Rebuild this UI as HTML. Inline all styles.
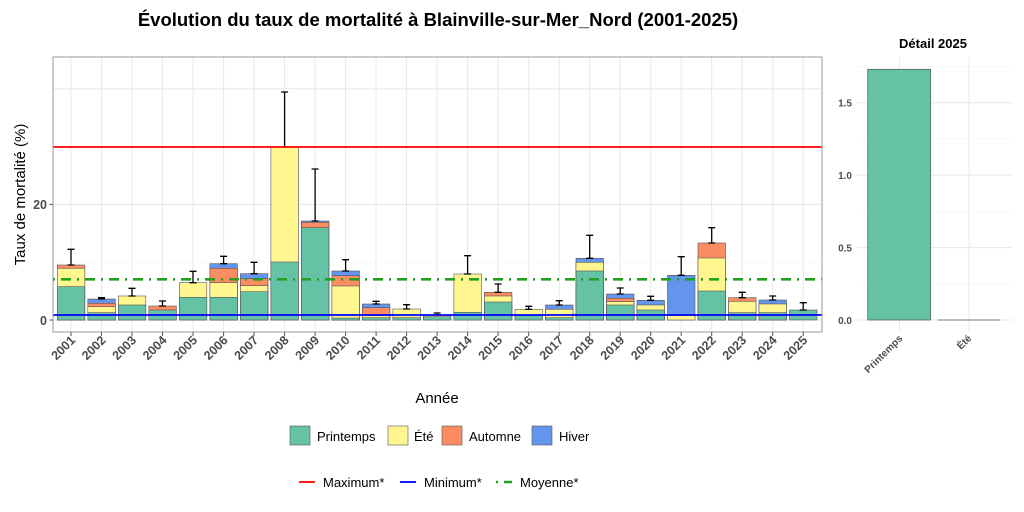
<!DOCTYPE html>
<html><head><meta charset="utf-8"><style>
html,body{margin:0;padding:0;background:#fff}
svg{display:block;font-family:"Liberation Sans",sans-serif}
.tk{font-size:12.5px;font-weight:bold;fill:#4d4d4d}
.g{fill:#66c2a5;stroke:#555;stroke-width:0.6}
.y{fill:#fff68f;stroke:#555;stroke-width:0.6}
.o{fill:#fc8d62;stroke:#555;stroke-width:0.6}
.b{fill:#6495ed;stroke:#555;stroke-width:0.6}
.e{stroke:#000;stroke-width:1.3;fill:none}
</style></head><body>
<svg width="1024" height="512" viewBox="0 0 1024 512">
<text x="438" y="26" text-anchor="middle" font-size="18.5" font-weight="bold">Évolution du taux de mortalité à Blainville-sur-Mer_Nord (2001-2025)</text>
<g stroke="#f3f3f3" stroke-width="0.6">
<line x1="53" x2="822" y1="262.2" y2="262.2"/><line x1="53" x2="822" y1="146.6" y2="146.6"/><line x1="53" x2="822" y1="88.8" y2="88.8"/>
</g>
<g stroke="#e8e8e8" stroke-width="1">
<line x1="53" x2="822" y1="320" y2="320"/><line x1="53" x2="822" y1="204.4" y2="204.4"/><line x1="53" x2="822" y1="88.8" y2="88.8"/>
<line x1="71" x2="71" y1="57" y2="332"/><line x1="101.5" x2="101.5" y1="57" y2="332"/><line x1="132" x2="132" y1="57" y2="332"/><line x1="162.5" x2="162.5" y1="57" y2="332"/><line x1="193" x2="193" y1="57" y2="332"/><line x1="223.6" x2="223.6" y1="57" y2="332"/><line x1="254.1" x2="254.1" y1="57" y2="332"/><line x1="284.6" x2="284.6" y1="57" y2="332"/><line x1="315.1" x2="315.1" y1="57" y2="332"/><line x1="345.6" x2="345.6" y1="57" y2="332"/><line x1="376.1" x2="376.1" y1="57" y2="332"/><line x1="406.6" x2="406.6" y1="57" y2="332"/><line x1="437.1" x2="437.1" y1="57" y2="332"/><line x1="467.6" x2="467.6" y1="57" y2="332"/><line x1="498.1" x2="498.1" y1="57" y2="332"/><line x1="528.7" x2="528.7" y1="57" y2="332"/><line x1="559.2" x2="559.2" y1="57" y2="332"/><line x1="589.7" x2="589.7" y1="57" y2="332"/><line x1="620.2" x2="620.2" y1="57" y2="332"/><line x1="650.7" x2="650.7" y1="57" y2="332"/><line x1="681.2" x2="681.2" y1="57" y2="332"/><line x1="711.7" x2="711.7" y1="57" y2="332"/><line x1="742.2" x2="742.2" y1="57" y2="332"/><line x1="772.7" x2="772.7" y1="57" y2="332"/><line x1="803.2" x2="803.2" y1="57" y2="332"/>
</g>
<g>
<rect class="o" x="57.3" y="265" width="27.5" height="55"/><rect class="y" x="57.3" y="268.3" width="27.5" height="51.7"/><rect class="g" x="57.3" y="286.7" width="27.5" height="33.3"/>
<rect class="b" x="87.8" y="299" width="27.5" height="21"/><rect class="o" x="87.8" y="303.3" width="27.5" height="16.7"/><rect class="y" x="87.8" y="306.7" width="27.5" height="13.3"/><rect class="g" x="87.8" y="312.7" width="27.5" height="7.3"/>
<rect class="y" x="118.3" y="296" width="27.5" height="24"/><rect class="g" x="118.3" y="305" width="27.5" height="15"/>
<rect class="o" x="148.8" y="306" width="27.5" height="14"/><rect class="g" x="148.8" y="310" width="27.5" height="10"/>
<rect class="y" x="179.3" y="282.7" width="27.5" height="37.3"/><rect class="g" x="179.3" y="297.3" width="27.5" height="22.7"/>
<rect class="b" x="209.9" y="263.7" width="27.5" height="56.3"/><rect class="o" x="209.9" y="268.3" width="27.5" height="51.7"/><rect class="y" x="209.9" y="282.7" width="27.5" height="37.3"/><rect class="g" x="209.9" y="297.3" width="27.5" height="22.7"/>
<rect class="b" x="240.4" y="273.7" width="27.5" height="46.3"/><rect class="o" x="240.4" y="278.7" width="27.5" height="41.3"/><rect class="y" x="240.4" y="285.7" width="27.5" height="34.3"/><rect class="g" x="240.4" y="291.7" width="27.5" height="28.3"/>
<rect class="y" x="270.9" y="147" width="27.5" height="173"/><rect class="g" x="270.9" y="262" width="27.5" height="58"/>
<rect class="b" x="301.4" y="221" width="27.5" height="99"/><rect class="o" x="301.4" y="222.3" width="27.5" height="97.7"/><rect class="g" x="301.4" y="227.7" width="27.5" height="92.3"/>
<rect class="b" x="331.9" y="271" width="27.5" height="49"/><rect class="o" x="331.9" y="275.7" width="27.5" height="44.3"/><rect class="y" x="331.9" y="286" width="27.5" height="34"/><rect class="g" x="331.9" y="318" width="27.5" height="2"/>
<rect class="b" x="362.4" y="304" width="27.5" height="16"/><rect class="o" x="362.4" y="307.7" width="27.5" height="12.3"/><rect class="y" x="362.4" y="315.7" width="27.5" height="4.3"/><rect class="g" x="362.4" y="317.7" width="27.5" height="2.3"/>
<rect class="y" x="392.9" y="309" width="27.5" height="11"/><rect class="g" x="392.9" y="317.7" width="27.5" height="2.3"/>
<rect class="y" x="423.4" y="315" width="27.5" height="5"/><rect class="g" x="423.4" y="316.7" width="27.5" height="3.3"/>
<rect class="y" x="453.9" y="274" width="27.5" height="46"/><rect class="g" x="453.9" y="312.3" width="27.5" height="7.7"/>
<rect class="o" x="484.4" y="292.3" width="27.5" height="27.7"/><rect class="y" x="484.4" y="296" width="27.5" height="24"/><rect class="g" x="484.4" y="302" width="27.5" height="18"/>
<rect class="y" x="515" y="309.3" width="27.5" height="10.7"/><rect class="g" x="515" y="315" width="27.5" height="5"/>
<rect class="b" x="545.5" y="305" width="27.5" height="15"/><rect class="y" x="545.5" y="309.3" width="27.5" height="10.7"/><rect class="g" x="545.5" y="317.7" width="27.5" height="2.3"/>
<rect class="b" x="576" y="258.3" width="27.5" height="61.7"/><rect class="y" x="576" y="262.3" width="27.5" height="57.7"/><rect class="g" x="576" y="271" width="27.5" height="49"/>
<rect class="b" x="606.5" y="294" width="27.5" height="26"/><rect class="o" x="606.5" y="298.3" width="27.5" height="21.7"/><rect class="y" x="606.5" y="301.7" width="27.5" height="18.3"/><rect class="g" x="606.5" y="305" width="27.5" height="15"/>
<rect class="b" x="637" y="300.3" width="27.5" height="19.7"/><rect class="y" x="637" y="305" width="27.5" height="15"/><rect class="g" x="637" y="310" width="27.5" height="10"/>
<rect class="b" x="667.5" y="275.3" width="27.5" height="44.7"/><rect class="y" x="667.5" y="315.5" width="27.5" height="4.5"/>
<rect class="o" x="698" y="243" width="27.5" height="77"/><rect class="y" x="698" y="258" width="27.5" height="62"/><rect class="g" x="698" y="291" width="27.5" height="29"/>
<rect class="o" x="728.5" y="297.7" width="27.5" height="22.3"/><rect class="y" x="728.5" y="301.3" width="27.5" height="18.7"/><rect class="g" x="728.5" y="312.7" width="27.5" height="7.3"/>
<rect class="b" x="759" y="300" width="27.5" height="20"/><rect class="y" x="759" y="304" width="27.5" height="16"/><rect class="g" x="759" y="312.7" width="27.5" height="7.3"/>
<rect class="g" x="789.5" y="310" width="27.5" height="10"/>
</g>
<path class="e" d="
M71 265V249.3M67.5 265h7M67.5 249.3h7
M101.5 299V297.7M98 299h7M98 297.7h7
M132 296V288.3M128.5 296h7M128.5 288.3h7
M162.5 306V301M159 306h7M159 301h7
M193 282.7V271.3M189.5 282.7h7M189.5 271.3h7
M223.6 263.7V256.3M220.1 263.7h7M220.1 256.3h7
M254.1 273.7V262.3M250.6 273.7h7M250.6 262.3h7
M284.6 147V92M281.1 147h7M281.1 92h7
M315.1 221V169M311.6 221h7M311.6 169h7
M345.6 271V259.7M342.1 271h7M342.1 259.7h7
M376.1 304V301.3M372.6 304h7M372.6 301.3h7
M406.6 309V304.7M403.1 309h7M403.1 304.7h7
M437.1 315V313M433.6 315h7M433.6 313h7
M467.6 274V255.7M464.1 274h7M464.1 255.7h7
M498.1 292.3V284M494.6 292.3h7M494.6 284h7
M528.7 309.3V306.3M525.2 309.3h7M525.2 306.3h7
M559.2 305V300.7M555.7 305h7M555.7 300.7h7
M589.7 258.3V235.3M586.2 258.3h7M586.2 235.3h7
M620.2 294V288M616.7 294h7M616.7 288h7
M650.7 300.3V296.3M647.2 300.3h7M647.2 296.3h7
M681.2 275.3V256.7M677.7 275.3h7M677.7 256.7h7
M711.7 243V227.7M708.2 243h7M708.2 227.7h7
M742.2 297.7V292.3M738.7 297.7h7M738.7 292.3h7
M772.7 300V296M769.2 300h7M769.2 296h7
M803.2 310V302.7M799.7 310h7M799.7 302.7h7"/>
<line x1="53" x2="822" y1="147" y2="147" stroke="#ff0000" stroke-width="1.8"/>
<line x1="53" x2="822" y1="315" y2="315" stroke="#0000ff" stroke-width="1.8"/>
<line x1="53" x2="822" y1="279.3" y2="279.3" stroke="#22a022" stroke-width="2.6" stroke-dasharray="2 6 10 6"/>
<rect x="53" y="57" width="769" height="275" fill="none" stroke="#9a9a9a" stroke-width="1"/>
<g stroke="#555" stroke-width="1"><line x1="49.5" x2="53" y1="320" y2="320"/><line x1="49.5" x2="53" y1="204.4" y2="204.4"/></g>
<text class="tk" x="47" y="325" text-anchor="end">0</text>
<text class="tk" x="47" y="209" text-anchor="end">20</text>
<text transform="translate(25,194.5) rotate(-90)" text-anchor="middle" font-size="15">Taux de mortalité (%)</text>
<g stroke="#555" stroke-width="1">
<path d="M71 332v4M101.5 332v4M132 332v4M162.5 332v4M193 332v4M223.6 332v4M254.1 332v4M284.6 332v4M315.1 332v4M345.6 332v4M376.1 332v4M406.6 332v4M437.1 332v4M467.6 332v4M498.1 332v4M528.7 332v4M559.2 332v4M589.7 332v4M620.2 332v4M650.7 332v4M681.2 332v4M711.7 332v4M742.2 332v4M772.7 332v4M803.2 332v4"/>
</g>
<g class="tk" text-anchor="end">
<text transform="translate(76,341) rotate(-45)">2001</text>
<text transform="translate(106.5,341) rotate(-45)">2002</text>
<text transform="translate(137,341) rotate(-45)">2003</text>
<text transform="translate(167.5,341) rotate(-45)">2004</text>
<text transform="translate(198,341) rotate(-45)">2005</text>
<text transform="translate(228.6,341) rotate(-45)">2006</text>
<text transform="translate(259.1,341) rotate(-45)">2007</text>
<text transform="translate(289.6,341) rotate(-45)">2008</text>
<text transform="translate(320.1,341) rotate(-45)">2009</text>
<text transform="translate(350.6,341) rotate(-45)">2010</text>
<text transform="translate(381.1,341) rotate(-45)">2011</text>
<text transform="translate(411.6,341) rotate(-45)">2012</text>
<text transform="translate(442.1,341) rotate(-45)">2013</text>
<text transform="translate(472.6,341) rotate(-45)">2014</text>
<text transform="translate(503.1,341) rotate(-45)">2015</text>
<text transform="translate(533.7,341) rotate(-45)">2016</text>
<text transform="translate(564.2,341) rotate(-45)">2017</text>
<text transform="translate(594.7,341) rotate(-45)">2018</text>
<text transform="translate(625.2,341) rotate(-45)">2019</text>
<text transform="translate(655.7,341) rotate(-45)">2020</text>
<text transform="translate(686.2,341) rotate(-45)">2021</text>
<text transform="translate(716.7,341) rotate(-45)">2022</text>
<text transform="translate(747.2,341) rotate(-45)">2023</text>
<text transform="translate(777.7,341) rotate(-45)">2024</text>
<text transform="translate(808.2,341) rotate(-45)">2025</text>
</g>
<text x="437" y="403" text-anchor="middle" font-size="15">Année</text>
<rect x="290" y="426" width="20" height="19" fill="#66c2a5" stroke="#555" stroke-width="0.6"/>
<text x="317" y="441" font-size="13">Printemps</text>
<rect x="388" y="426" width="20" height="19" fill="#fff68f" stroke="#555" stroke-width="0.6"/>
<text x="414" y="441" font-size="13">Été</text>
<rect x="442" y="426" width="20" height="19" fill="#fc8d62" stroke="#555" stroke-width="0.6"/>
<text x="469" y="441" font-size="13">Automne</text>
<rect x="532" y="426" width="20" height="19" fill="#6495ed" stroke="#555" stroke-width="0.6"/>
<text x="559" y="441" font-size="13">Hiver</text>
<line x1="299" x2="315" y1="482" y2="482" stroke="#ff0000" stroke-width="1.8"/>
<text x="323" y="487" font-size="13">Maximum*</text>
<line x1="400" x2="416" y1="482" y2="482" stroke="#0000ff" stroke-width="1.8"/>
<text x="424" y="487" font-size="13">Minimum*</text>
<line x1="496" x2="512" y1="482" y2="482" stroke="#22a022" stroke-width="2.4" stroke-dasharray="2 6 8 6"/>
<text x="520" y="487" font-size="13">Moyenne*</text>
<text x="933" y="48" text-anchor="middle" font-size="13" font-weight="bold">Détail 2025</text>
<g stroke="#f3f3f3" stroke-width="0.6">
<line x1="857" x2="1012" y1="283.8" y2="283.8"/><line x1="857" x2="1012" y1="211.3" y2="211.3"/><line x1="857" x2="1012" y1="138.8" y2="138.8"/><line x1="857" x2="1012" y1="66.4" y2="66.4"/>
</g>
<g stroke="#e8e8e8" stroke-width="1">
<line x1="857" x2="1012" y1="320" y2="320"/><line x1="857" x2="1012" y1="247.6" y2="247.6"/><line x1="857" x2="1012" y1="175.1" y2="175.1"/><line x1="857" x2="1012" y1="102.7" y2="102.7"/>
<line x1="899.5" x2="899.5" y1="57" y2="332"/><line x1="969" x2="969" y1="57" y2="332"/>
</g>
<rect x="867.7" y="69.3" width="63" height="250.7" fill="#66c2a5" stroke="#555" stroke-width="0.7"/>
<line x1="937.7" x2="1000" y1="320" y2="320" stroke="#555" stroke-width="0.8"/>
<g font-size="10" font-weight="bold" fill="#4d4d4d" text-anchor="end">
<text x="852" y="324">0.0</text><text x="852" y="251.5">0.5</text><text x="852" y="179">1.0</text><text x="852" y="106.5">1.5</text>
</g>
<g font-size="10" font-weight="bold" fill="#4d4d4d" text-anchor="end">
<text transform="translate(903,339) rotate(-45)">Printemps</text>
<text transform="translate(972,339) rotate(-45)">Été</text>
</g>
</svg>
</body></html>
